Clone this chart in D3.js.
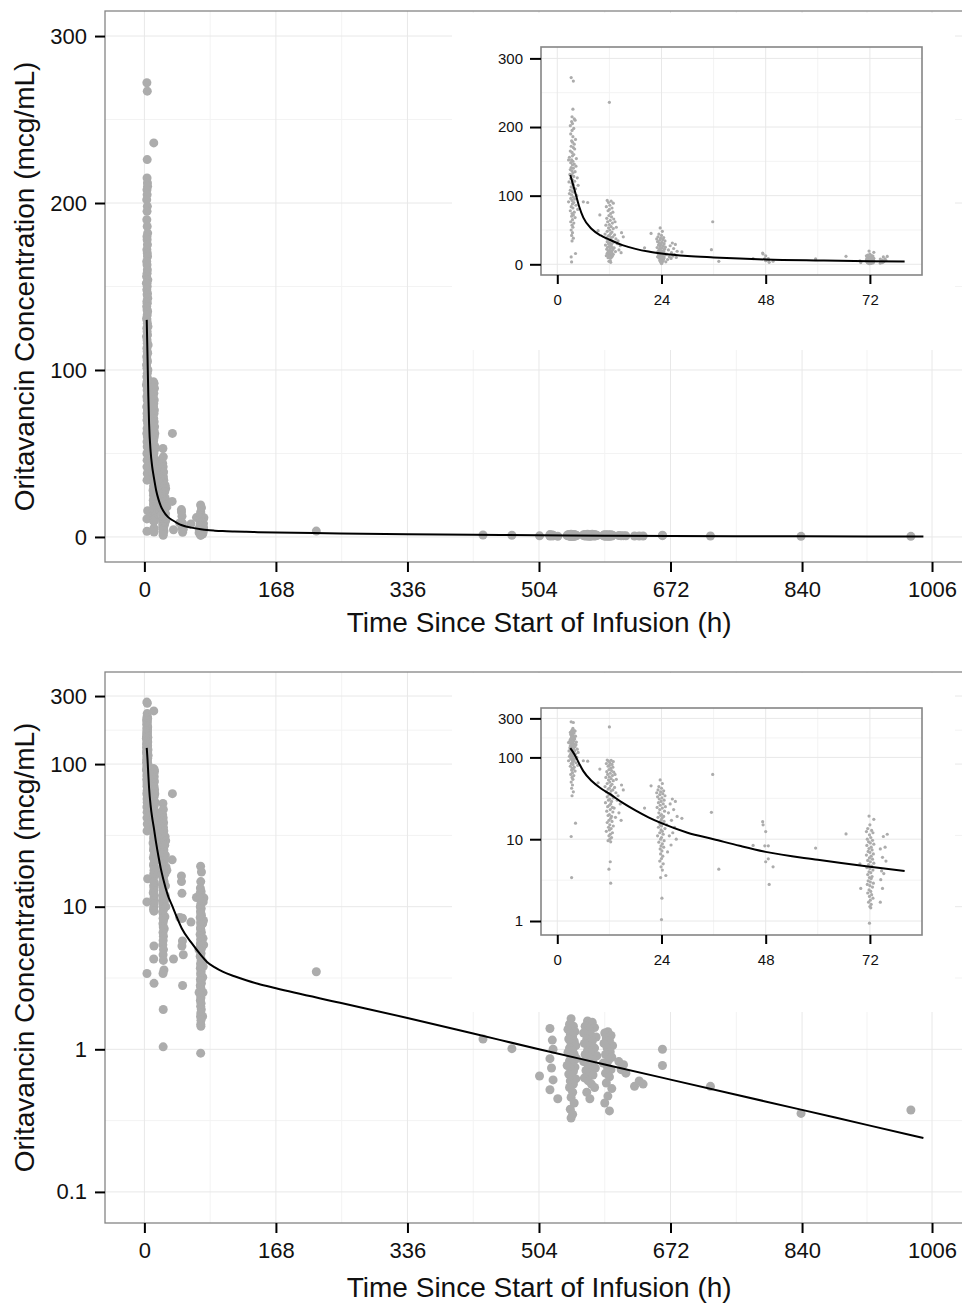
<!DOCTYPE html>
<html>
<head>
<meta charset="utf-8">
<script src="https://cdn.jsdelivr.net/npm/d3@7"></script>
<style>
body { margin:0; background:#fff; }
</style>
</head>
<body>
<svg id="chart" width="962" height="1303"></svg>
<script>
var obsEnd = [
[3.2,272],[3.7,267],[3.6,226],[3.4,215],[3.9,212],[4.1,210],[3.3,208],[3.5,205],[3.0,202],[3.8,198],
[3.4,195],[3.1,190],[3.6,186],[4.2,182],[3.3,180],[3.5,178],[3.9,175],[3.2,172],[3.7,170],[4.0,168],
[3.0,165],[3.4,163],[3.8,160],[3.5,158],[2.8,156],[4.4,154],[3.3,152],[3.6,150],[3.1,148],[3.9,146],
[2.6,152],[3.5,145],[4.3,143],[3.2,141],[3.7,140],[3.0,138],[3.4,136],[4.1,135],[3.6,133],[2.9,131],
[3.3,130],[3.8,128],[4.6,126],[3.1,125],[3.5,123],[4.0,121],[2.7,120],[3.4,118],[3.7,116],[4.8,115],
[3.2,113],[3.6,111],[4.2,110],[3.0,108],[3.5,106],[3.9,105],[2.8,103],[3.3,101],[4.5,100],[3.7,98],
[3.1,96],[4.0,95],[3.4,93],[2.6,91],[3.8,90],[3.5,88],[4.3,86],[3.2,84],[3.6,82],[4.7,80],
[3.0,78],[3.9,76],[3.4,74],[3.7,72],[3.3,70],[4.1,68],[3.5,65],[3.1,62],[3.8,60],[3.4,57],
[3.6,54],[3.2,50],[3.5,46],[3.3,42],[3.7,38],[3.4,34],[4.2,15.7],[3.2,10.8],[3.3,3.4],
[6.0,91],[7.0,90]
];
var obs12 = [
[12.0,236],
[11.5,93],[12.4,92],[11.8,90],[12.9,89],[12.1,86],[11.3,84],[12.6,82],[12.0,80],[11.7,78],[12.8,76],
[9.8,72],[12.3,74],[11.9,71],[12.5,69],[11.4,67],[13.0,66],[12.2,64],[11.6,62],[13.3,62],[12.7,60],
[12.0,58],[11.2,57],[12.4,55],[13.6,54],[11.8,53],[12.9,52],[12.1,50],[9.4,49],[11.5,48],[12.6,47],
[14.8,46],[12.3,45],[11.0,44],[13.2,43],[12.0,42],[11.7,41],[12.8,40],[15.2,40],[12.4,39],[11.3,38],
[13.5,37],[12.2,36],[11.9,35],[12.6,34],[14.0,34],[11.5,33],[12.9,32],[12.1,31],[13.8,30],[11.8,30],
[12.5,29],[11.1,28],[12.3,27],[14.5,27],[12.0,26],[11.6,25],[12.7,24.5],[13.1,24],[12.2,23],[11.4,22],
[12.8,21.5],[14.2,21],[12.0,20],[11.7,19.5],[12.5,19],[13.4,18.5],[12.3,18],[11.9,17],[14.7,17],[12.6,16.5],
[11.5,16],[12.1,15],[12.9,14.5],[11.8,14],[12.4,13.5],[12.0,13],[11.3,12.5],[12.7,12],[12.2,11.5],[11.9,11],
[12.5,10.5],[12.1,10],[11.7,9.6],[12.3,9.3],[12.2,5.3],[11.9,4.3],[12.3,2.9]
];
var obs24 = [
[23.7,53],[21.6,45],[24.2,48],[23.4,44],[24.0,42],[23.2,40],[24.5,39],[23.8,38],[22.9,37],[24.3,36],
[23.6,35],[24.8,34],[23.1,33],[24.1,32],[23.5,31],[26.5,31],[24.6,30],[23.9,29],[27.2,29],[23.3,28],
[24.4,27],[26.0,27],[23.7,26],[24.9,25],[23.0,24.5],[20.1,24],[24.2,24],[26.8,23],[23.6,23],[24.7,22],
[23.4,21],[25.6,21],[24.0,20],[23.8,19.5],[27.6,19],[24.5,19],[23.2,18.5],[28.7,18],[24.1,18],[23.9,17],
[26.3,17],[24.6,16.5],[23.5,16],[24.3,15.5],[25.2,15],[23.7,15],[24.0,14.5],[27.0,14],[23.3,14],[24.8,13.5],
[23.9,13],[24.2,12.5],[26.6,12],[23.6,12],[24.4,11.5],[23.1,11],[25.8,11],[24.0,10.5],[23.8,10],[27.4,10],
[24.6,9.6],[23.4,9.2],[24.2,8.8],[26.2,8.5],[23.9,8.3],[24.5,8],[23.7,7.6],[24.1,7.2],[25.4,7],[23.8,6.6],
[24.3,6.2],[24.0,5.8],[23.6,5.4],[24.4,5],[23.9,4.6],[24.2,4.2],[25.0,3.6],[23.8,3.4],[24.1,1.9],[24.0,1.04]
];
var obsMid = [
[35.8,62],[35.5,21.3],[37.2,4.3],[45.1,8.4],[47.3,16.4],[47.4,15],[48.0,12.4],[47.8,8.3],[48.6,8.3],
[48.6,5.75],[48.0,5.3],[49.7,4.6],[48.8,2.8],[59.5,7.8],[66.5,11.6]
];
var obs72 = [
[71.8,19.2],[72.9,17.5],[72.0,15],[71.5,13.5],[72.4,12.8],[71.2,12.4],[72.7,12],[76.0,11.5],[71.9,11.3],[75.1,10.8],
[72.2,10.5],[71.4,10],[72.6,9.7],[71.7,9.3],[72.1,9],[72.9,8.7],[71.3,8.4],[75.5,8],[72.3,8],[71.8,7.7],
[74.4,7.6],[72.5,7.4],[71.6,7.1],[72.0,6.9],[72.8,6.6],[71.2,6.4],[72.3,6.2],[74.9,6],[71.9,5.9],[72.6,5.7],
[71.5,5.5],[75.7,5.4],[72.1,5.3],[72.9,5.1],[69.7,5],[71.7,4.9],[72.4,4.7],[71.3,4.5],[72.0,4.4],[72.7,4.2],
[74.7,4.1],[71.8,4],[72.2,3.9],[75.2,3.8],[71.5,3.7],[72.5,3.5],[71.9,3.4],[72.3,3.3],[74.5,3.2],[71.6,3.1],
[72.1,3],[72.8,2.9],[71.4,2.8],[72.0,2.7],[72.6,2.6],[69.9,2.5],[74.9,2.5],[71.8,2.4],[72.2,2.3],[71.5,2.2],
[72.4,2.1],[71.9,2],[72.7,1.9],[72.1,1.8],[74.4,1.7],[71.7,1.7],[72.3,1.6],[72.0,1.5],[72.2,1.45],[71.9,0.94]
];
var obsLate = [
[219.6,3.5],[432.5,1.18],[469.4,1.01],[504.7,0.65],[723,0.55],[838.7,0.355],[979,0.375],[661.7,1.0],[661.7,0.77],
[518,1.40],[521,1.16],[522,1.0],[518,0.86],[520,0.74],[522,0.61],[518,0.52],[528,0.45],
[545,1.64],[543,1.5],[548,1.45],[541,1.38],[550,1.33],[544,1.28],[547,1.22],[542,1.18],[549,1.14],[545,1.1],
[551,1.06],[543,1.02],[547,0.98],[541,0.95],[549,0.92],[545,0.89],[552,0.86],[543,0.83],[547,0.8],[540,0.77],
[550,0.75],[545,0.72],[548,0.7],[542,0.67],[546,0.64],[551,0.62],[544,0.6],[548,0.57],[543,0.54],[547,0.5],
[545,0.46],[549,0.42],[544,0.38],[547,0.35],[545,0.33],
[566,1.58],[572,1.55],[563,1.45],[575,1.42],[568,1.38],[561,1.3],[570,1.27],[577,1.22],[565,1.18],[572,1.14],
[562,1.1],[569,1.05],[575,1.02],[566,0.98],[571,0.95],[563,0.92],[578,0.9],[568,0.87],[573,0.84],[561,0.82],
[566,0.79],[570,0.76],[576,0.74],[564,0.71],[569,0.68],[573,0.66],[562,0.63],[567,0.6],[571,0.57],[575,0.54],
[565,0.5],[569,0.45],
[592,1.33],[588,1.3],[596,1.25],[590,1.2],[594,1.15],[587,1.1],[598,1.06],[591,1.02],[595,0.96],[589,0.92],
[597,0.88],[593,0.84],[586,0.8],[591,0.76],[596,0.72],[589,0.68],[594,0.64],[590,0.58],[597,0.53],[592,0.47],
[588,0.42],[594,0.37],
[606,0.82],[612,0.78],[609,0.72],[615,0.68],[626,0.55],[632,0.6],[637,0.57]
];

// model prediction line
var curveTime = [3,4,5,6,8,10,12,15,18,21,24,30,36,42,48,60,72,80,90,100,115,130,145,168,250,336,420,504,588,672,756,840,924,995];
var curveConc = [130,108,85,68,51,42,36,28,22.5,18.5,15.7,12,10,8.3,7.0,5.6,4.6,4.1,3.75,3.5,3.25,3.05,2.88,2.68,2.12,1.66,1.29,1.0,0.783,0.613,0.48,0.376,0.294,0.239];

// axis breaks
var mainXTicks = [0,168,336,504,672,840,1006];
var mainXMinor = [84,252,420,588,756,923];
var insetXTicks = [0,24,48,72];
var insetXMinor = [12,36,60];
var linTicks = [0,100,200,300];
var linMinor = [50,150,250];
var linLabels = ["0","100","200","300"];
var logTicksMain = [0.1,1,10,100,300];
var logLabelsMain = ["0.1","1","10","100","300"];
var logMinorMain = [0.316,3.16,31.6,173];
var logTicksInset = [1,10,100,300];
var logLabelsInset = ["1","10","100","300"];
var logMinorInset = [3.16,31.6,173];

var xTitle = "Time Since Start of Infusion (h)";
var yTitle = "Oritavancin Concentration (mcg/mL)";

var fontFam = "'Liberation Sans', Arial, Helvetica, sans-serif";
var pointColor = "#acacac";

var svg = d3.select("#chart");
var allObs = [].concat(obsEnd, obs12, obs24, obsMid, obs72, obsLate);
var curveData = curveTime.map(function(t, i){ return [t, curveConc[i]]; });

var clipCount = 0;

var drawPanel = function(o)
{
    var g = svg.append("g");
    var left = o.x.range()[0], right = o.x.range()[1];
    var top = o.y.range()[1], bottom = o.y.range()[0];

    if (o.cover)
    {
        g.append("rect")
            .attr("x", o.cover[0]).attr("y", o.cover[1])
            .attr("width", o.cover[2] - o.cover[0]).attr("height", o.cover[3] - o.cover[1])
            .attr("fill", "#fff");
    }

    g.append("rect")
        .attr("x", left).attr("y", top)
        .attr("width", right - left).attr("height", bottom - top)
        .attr("fill", "#fff");

    // grid, minor first
    var grid = g.append("g");
    var addGrid = function(vals, vertical, color, w)
    {
        grid.selectAll(null)
            .data(vals)
            .enter()
            .append("line")
            .attr("x1", function(d){ return vertical ? o.x(d) : left; })
            .attr("x2", function(d){ return vertical ? o.x(d) : right; })
            .attr("y1", function(d){ return vertical ? top : o.y(d); })
            .attr("y2", function(d){ return vertical ? bottom : o.y(d); })
            .attr("stroke", color)
            .attr("stroke-width", w);
    }
    addGrid(o.xMinor, true, "#f3f3f3", 1);
    addGrid(o.yMinor, false, "#f3f3f3", 1);
    addGrid(o.xTicks, true, "#e8e8e8", 1);
    addGrid(o.yTicks, false, "#e8e8e8", 1);

    clipCount++;
    var clipId = "clip" + clipCount;
    g.append("clipPath").attr("id", clipId)
        .append("rect")
        .attr("x", left).attr("y", top)
        .attr("width", right - left).attr("height", bottom - top);

    var plot = g.append("g").attr("clip-path", "url(#" + clipId + ")");

    plot.selectAll("circle")
        .data(allObs.filter(function(d){ return d[0] <= o.maxT; }))
        .enter()
        .append("circle")
        .attr("cx", function(d){ return o.x(d[0]); })
        .attr("cy", function(d){ return o.y(d[1]); })
        .attr("r", o.r)
        .attr("fill", pointColor);

    var line = d3.line()
        .curve(d3.curveMonotoneX)
        .x(function(d){ return o.x(d[0]); })
        .y(function(d){ return o.y(d[1]); });

    plot.append("path")
        .datum(curveData.filter(function(d){ return d[0] <= o.curveMax; }))
        .attr("d", line)
        .attr("fill", "none")
        .attr("stroke", "#000")
        .attr("stroke-width", o.lineW);

    g.append("rect")
        .attr("x", left).attr("y", top)
        .attr("width", right - left).attr("height", bottom - top)
        .attr("fill", "none")
        .attr("stroke", "#858585")
        .attr("stroke-width", o.borderW);

    var xAxis = d3.axisBottom(o.x)
        .tickValues(o.xTicks)
        .tickSize(o.xTickLen)
        .tickPadding(o.xPad)
        .tickFormat(function(d){ return d; });
    var gx = g.append("g")
        .attr("transform", "translate(0," + bottom + ")")
        .call(xAxis);

    var yAxis = d3.axisLeft(o.y)
        .tickValues(o.yTicks)
        .tickSize(o.yTickLen)
        .tickPadding(o.yPad)
        .tickFormat(function(d, i){ return o.yLabels[i]; });
    var gy = g.append("g")
        .attr("transform", "translate(" + left + ",0)")
        .call(yAxis);

    [gx, gy].forEach(function(a)
    {
        a.select(".domain").remove();
        a.attr("font-size", o.font).attr("font-family", fontFam);
        a.selectAll("line").attr("stroke", "#000").attr("stroke-width", 2);
        a.selectAll("text").attr("fill", "#111");
    });

    if (o.titles)
    {
        g.append("text")
            .attr("x", (left + 971.4) / 2 + 1)
            .attr("y", o.titles.xBase)
            .attr("text-anchor", "middle")
            .attr("font-family", fontFam)
            .attr("font-size", 28)
            .attr("fill", "#111")
            .text(xTitle);

        g.append("text")
            .attr("transform", "translate(33.5," + ((top + bottom) / 2) + ") rotate(-90)")
            .attr("text-anchor", "middle")
            .attr("font-family", fontFam)
            .attr("font-size", 28)
            .attr("fill", "#111")
            .text(yTitle);
    }
}

var xMain = d3.scaleLinear().domain([-50.3, 1056.3]).range([105, 971.4]);
var xInset = d3.scaleLinear().domain([-3.75, 84]).range([541, 922]);

var mainCommon = {
    x: xMain, xTicks: mainXTicks, xMinor: mainXMinor,
    r: 4.5, lineW: 2, borderW: 1.3, maxT: 2000, curveMax: 2000,
    font: 22, xTickLen: 10, xPad: 9.5, yTickLen: 10, yPad: 8
};
var insetCommon = {
    x: xInset, xTicks: insetXTicks, xMinor: insetXMinor,
    r: 1.6, lineW: 2, borderW: 1.6, maxT: 84, curveMax: 80,
    font: 15, xTickLen: 9, xPad: 10.5, yTickLen: 11, yPad: 7
};

// top: linear scale
drawPanel(Object.assign({}, mainCommon, {
    y: d3.scaleLinear().domain([-15, 315]).range([562, 11]),
    yTicks: linTicks, yLabels: linLabels, yMinor: linMinor,
    titles: { xBase: 632 }
}));
drawPanel(Object.assign({}, insetCommon, {
    y: d3.scaleLinear().domain([-15.6, 316.6]).range([275, 47]),
    yTicks: linTicks, yLabels: linLabels, yMinor: linMinor,
    cover: [452, 13, 955, 350]
}));

// bottom: log scale
drawPanel(Object.assign({}, mainCommon, {
    y: d3.scaleLog().domain([0.06053, 442.3]).range([1223, 672]),
    yTicks: logTicksMain, yLabels: logLabelsMain, yMinor: logMinorMain,
    titles: { xBase: 1297 }
}));
drawPanel(Object.assign({}, insetCommon, {
    y: d3.scaleLog().domain([0.6745, 401.8]).range([935, 708]),
    yTicks: logTicksInset, yLabels: logLabelsInset, yMinor: logMinorInset,
    cover: [452, 673, 955, 1012]
}));
</script>
</body>
</html>
